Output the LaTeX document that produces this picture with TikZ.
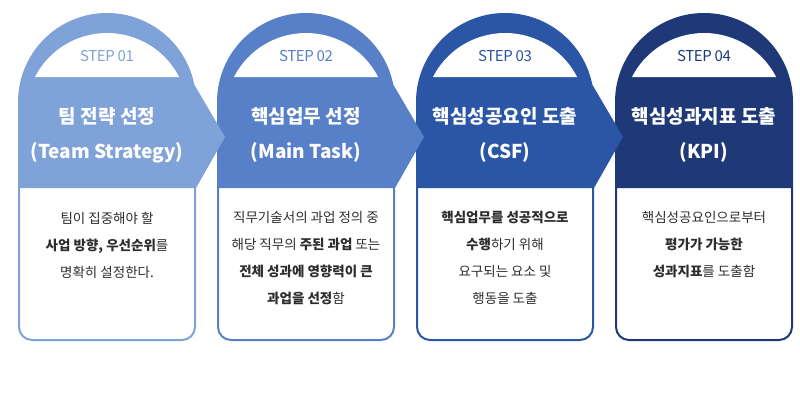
\documentclass[tikz,border=0pt]{standalone}
\usepackage{fontspec}
\setmainfont{Noto Sans CJK KR}
\usetikzlibrary{positioning}

\definecolor{stepone}{RGB}{127,163,216}
\definecolor{steptwo}{RGB}{88,128,200}
\definecolor{stepthree}{RGB}{43,86,165}
\definecolor{stepfour}{RGB}{31,57,120}
\definecolor{bodygray}{RGB}{45,45,45}

\begin{document}
\begin{tikzpicture}[x=1pt,y=-1pt]
\tikzstyle{steplabel} = [font=\addfontfeature{LetterSpace=-3}\fontsize{15}{17}\selectfont, text centered]
\tikzstyle{title} = [font=\bfseries\fontsize{19}{35}\selectfont, text=white, align=center]
\tikzstyle{desc} = [font=\fontsize{13.5}{27}\selectfont, text=bodygray, align=center]
\tikzstyle{box} = [line width=2pt, rounded corners=13pt]
\tikzstyle{arch} = [fill=white]

\useasboundingbox (0,0) rectangle (800,402);

% STEP 04
\fill[stepfour] (615,188) -- (615,102) arc[start angle=180, end angle=360, radius=89] -- (793,188) -- cycle;
\fill[arch] (632,77) arc[start angle=207.2, end angle=332.8, radius=81] -- cycle;
\draw[box, stepfour] (616,188) -- (616,340) -- (792,340) -- (792,188);

% STEP 03
\fill[stepthree] (416,188) -- (416,102) arc[start angle=180, end angle=348.7, radius=89] -- (623,137) -- (594,188) -- cycle;
\fill[arch] (433,77) arc[start angle=207.2, end angle=332.8, radius=81] -- cycle;
\draw[box, stepthree] (417,188) -- (417,340) -- (593,340) -- (593,188);

% STEP 02
\fill[steptwo] (217,188) -- (217,102) arc[start angle=180, end angle=348.7, radius=89] -- (424,137) -- (395,188) -- cycle;
\fill[arch] (234,77) arc[start angle=207.2, end angle=332.8, radius=81] -- cycle;
\draw[box, steptwo] (218,188) -- (218,340) -- (394,340) -- (394,188);

% STEP 01
\fill[stepone] (18,188) -- (18,102) arc[start angle=180, end angle=348.7, radius=89] -- (225,137) -- (196,188) -- cycle;
\fill[arch] (35,77) arc[start angle=207.2, end angle=332.8, radius=81] -- cycle;
\draw[box, stepone] (19,188) -- (19,340) -- (195,340) -- (195,188);

\node (step1) [steplabel, text=stepone] at (107,56) {STEP 01};
\node (step2) [steplabel, text=steptwo] at (306,56) {STEP 02};
\node (step3) [steplabel, text=stepthree] at (505,56) {STEP 03};
\node (step4) [steplabel, text=stepfour] at (704,56) {STEP 04};

\node (title1) [title] at (107,135) {팀 전략 선정\\(Team Strategy)};
\node (title2) [title] at (306,135) {핵심업무 선정\\(Main Task)};
\node (title3) [title] at (505,135) {핵심성공요인 도출\\(CSF)};
\node (title4) [title] at (704,135) {핵심성과지표 도출\\(KPI)};

\node (desc1) [desc] at (107,245) {팀이 집중해야 할\\\textbf{사업 방향, 우선순위}를\\명확히 설정한다.};
\node (desc2) [desc] at (306,258) {직무기술서의 과업 정의 중\\해당 직무의 \textbf{주된 과업} 또는\\\textbf{전체 성과에 영향력이 큰}\\\textbf{과업을 선정}함};
\node (desc3) [desc] at (505,258) {\textbf{핵심업무를 성공적으로}\\\textbf{수행}하기 위해\\요구되는 요소 및\\행동을 도출};
\node (desc4) [desc] at (704,245) {핵심성공요인으로부터\\\textbf{평가가 가능한}\\\textbf{성과지표}를 도출함};

\end{tikzpicture}
\end{document}
